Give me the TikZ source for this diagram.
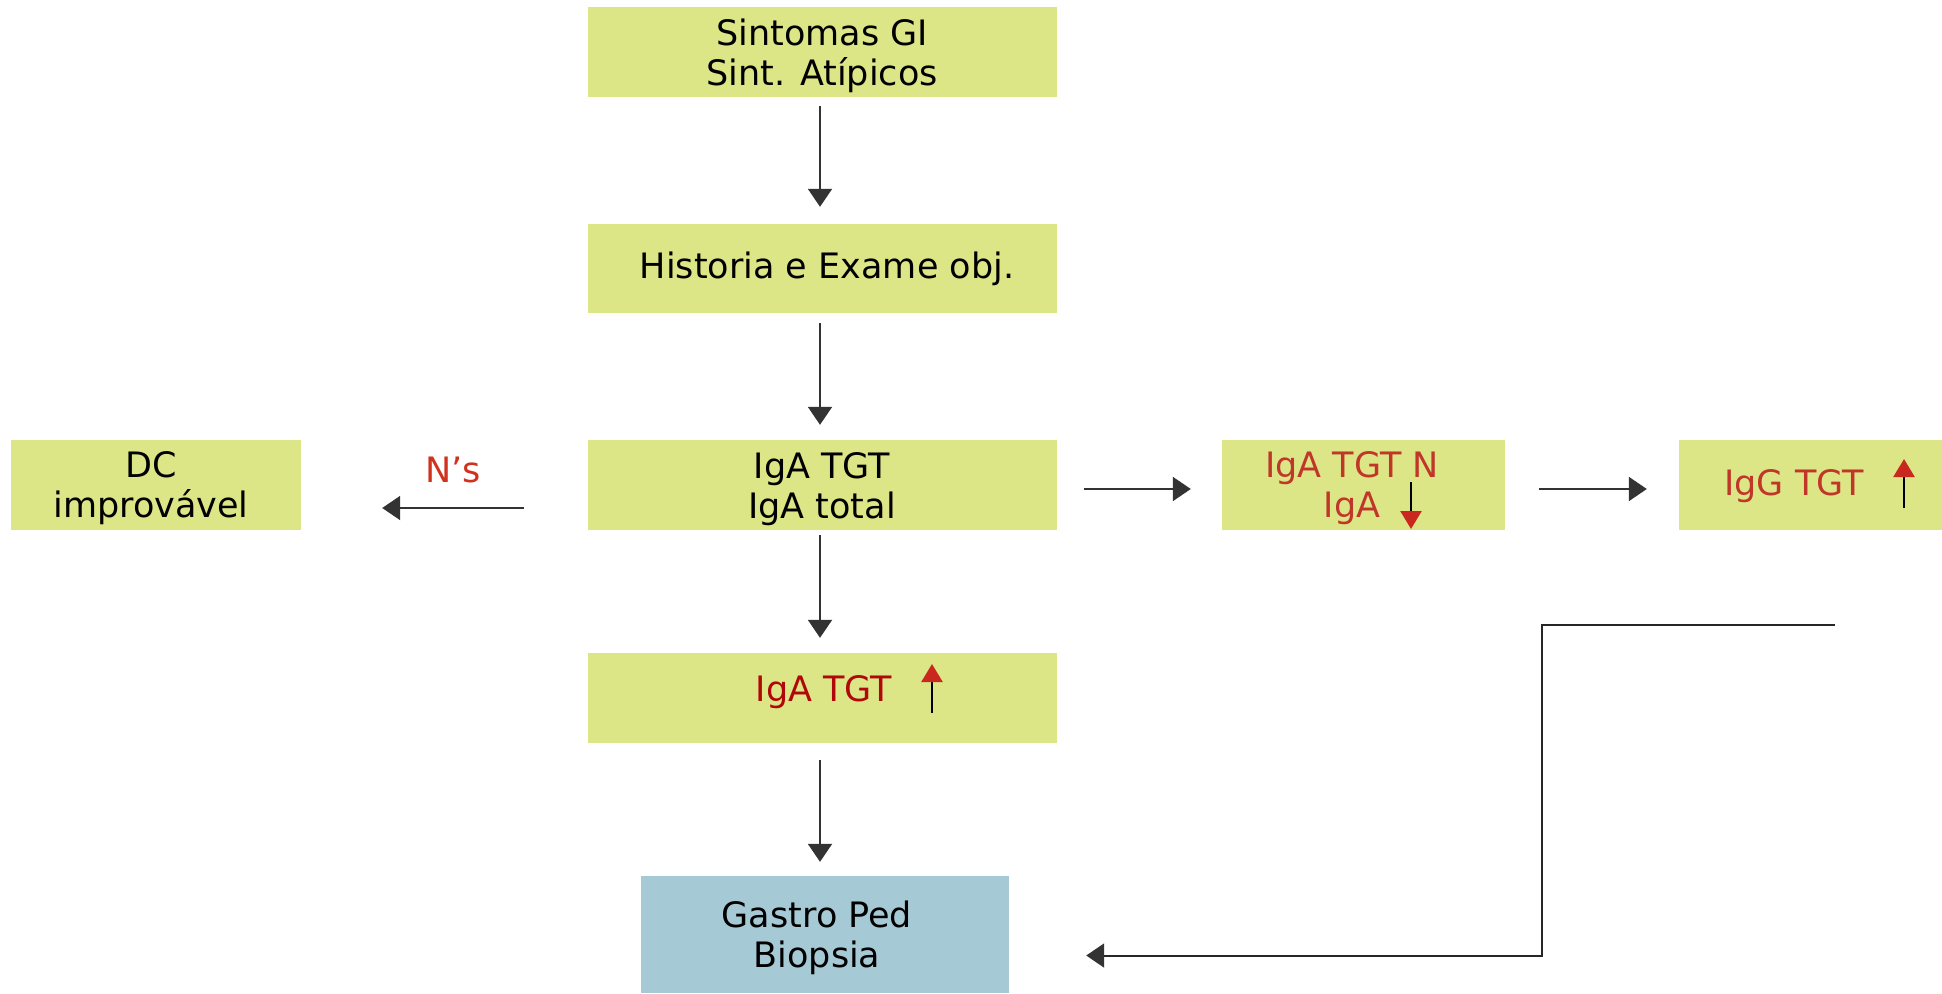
\documentclass[tikz,border=0pt]{standalone}
\usepackage{fontspec}
\setmainfont{DejaVu Sans}
\usetikzlibrary{arrows.meta,calc}
\definecolor{boxgreen}{RGB}{221,230,135}
\definecolor{boxblue}{RGB}{165,202,214}
\definecolor{linegray}{RGB}{51,51,51}
\definecolor{txtred}{RGB}{192,55,42}
\definecolor{txtdark}{RGB}{176,8,8}
\definecolor{lblred}{RGB}{208,50,30}
\definecolor{tipred}{RGB}{200,40,30}

\begin{document}
\begin{tikzpicture}[x=1pt,y=-1pt,
  every node/.style={font=\fontsize{35}{40}\selectfont, align=center, inner sep=0pt},
  gbox/.style={fill=boxgreen, draw=none},
  bbox/.style={fill=boxblue, draw=none},
  arr/.style={draw=linegray, line width=2pt, -{Triangle[length=18pt,width=24pt]}},
  elbow/.style={draw=black!85, line width=2pt, -{Triangle[length=18pt,width=24pt,color=linegray]}},
  mini/.style={draw=black, line width=2.5pt, -{Triangle[length=18pt,width=21pt,color=tipred]}}
]
\useasboundingbox (0,0) rectangle (1942,993);

% main column
\node[gbox, minimum width=469pt, minimum height=90pt] (sint) at (822.5,52) {};
\node (sinttxt) at (822,55.5) {Sintomas GI\\Sint. Atípicos};
\node[gbox, minimum width=469pt, minimum height=89pt] (hist) at (822.5,268.5) {};
\node (histtxt) at (827,268.5) {Historia e Exame obj.};
\node[gbox, minimum width=469pt, minimum height=90pt] (iga) at (822.5,485) {};
\node (igatxt) at (822,489.5) {IgA TGT\\IgA total};
\node[gbox, minimum width=469pt, minimum height=90pt] (igatgt) at (822.5,698) {};
\node[text=txtdark] (igatgttxt) at (824,692.5) {IgA TGT};
\node[bbox, minimum width=368pt, minimum height=117pt] (gastro) at (825,934.5) {};
\node (gastrotxt) at (817,937.5) {Gastro Ped\\Biopsia};

% left branch
\node[gbox, minimum width=290pt, minimum height=90pt] (dc) at (156,485) {};
\node (dctxt) at (151,488) {DC\\improvável};
\node[text=lblred] (ns) at (453,470) {N’s};

% right branch
\node[gbox, minimum width=283pt, minimum height=90pt] (ign) at (1363.5,485) {};
\node[text=txtred] (igntxt) at (1352,488.5) {IgA TGT N\\IgA};
\node[gbox, minimum width=275pt, minimum height=90pt] (igg) at (1816.5,485) {};
\node[text=txtred] (iggtxt) at (1794,486.5) {IgG TGT};

% vertical connectors
\draw[arr] ($(sint.south)+(-2.5,9)$) -- ($(hist.north)+(-2.5,-17)$);
\draw[arr] ($(hist.south)+(-2.5,10)$) -- ($(iga.north)+(-2.5,-15)$);
\draw[arr] ($(iga.south)+(-2.5,5)$) -- ($(igatgt.north)+(-2.5,-15)$);
\draw[arr] ($(igatgt.south)+(-2.5,17)$) -- ($(igatgt.south |- gastro.north)+(-2.5,-14)$);

% horizontal connectors
\draw[arr] ($(iga.east)+(27,4)$) -- ($(ign.west)+(-31,4)$);
\draw[arr] ($(ign.east)+(34,4)$) -- ($(igg.west)+(-32,4)$);
\draw[arr] ($(iga.west)+(-64,23)$) -- ($(dc.east)+(81,23)$);

% return path to the biopsy
\coordinate (elbowstart) at (1835,625);
\coordinate (elbowbend) at (1542,625);
\draw[elbow] (elbowstart) -- (elbowbend) |- ($(gastro.east)+(77,21)$);

% up/down markers inside the boxes
\draw[mini] (1411,482) -- (1411,529);
\draw[mini] (1904,508) -- (1904,459);
\draw[mini] (932,713) -- (932,664);
\end{tikzpicture}
\end{document}
